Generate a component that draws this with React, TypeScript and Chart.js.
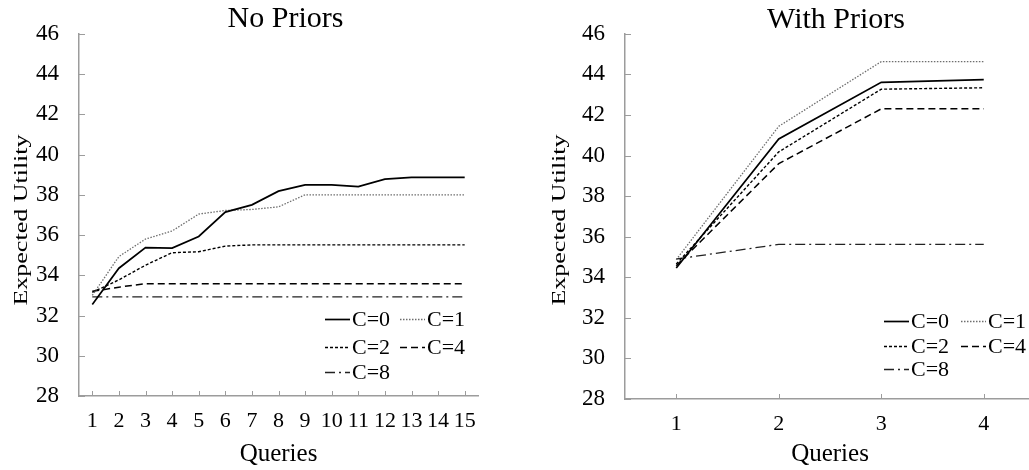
import React, { useEffect, useRef } from "react";
import { Chart, registerables } from "chart.js";

Chart.register(...registerables);

const FONT = '"Liberation Serif", "Times New Roman", Times, serif';

// ---- data ----
const seriesLabels = ["C=0", "C=1", "C=2", "C=4", "C=8"];

const noPriorsQueries = ["1", "2", "3", "4", "5", "6", "7", "8", "9", "10", "11", "12", "13", "14", "15"];
const noPriorsC0 = [32.55, 34.35, 35.37, 35.35, 35.93, 37.14, 37.5, 38.18, 38.49, 38.49, 38.41, 38.78, 38.86, 38.86, 38.86];
const noPriorsC1 = [33.0, 34.93, 35.8, 36.2, 37.04, 37.22, 37.27, 37.4, 38.0, 38.0, 38.0, 38.0, 38.0, 38.0, 38.0];
const noPriorsC2 = [33.15, 33.77, 34.5, 35.12, 35.17, 35.45, 35.51, 35.51, 35.51, 35.51, 35.51, 35.51, 35.51, 35.51, 35.51];
const noPriorsC4 = [33.2, 33.41, 33.58, 33.58, 33.58, 33.58, 33.58, 33.58, 33.58, 33.58, 33.58, 33.58, 33.58, 33.58, 33.58];
const noPriorsC8 = [32.93, 32.93, 32.93, 32.93, 32.93, 32.93, 32.93, 32.93, 32.93, 32.93, 32.93, 32.93, 32.93, 32.93, 32.93];

const withPriorsQueries = ["1", "2", "3", "4"];
const withPriorsC0 = [34.46, 40.82, 43.61, 43.74];
const withPriorsC1 = [34.87, 41.44, 44.63, 44.63];
const withPriorsC2 = [34.65, 40.18, 43.27, 43.34];
const withPriorsC4 = [34.57, 39.6, 42.3, 42.3];
const withPriorsC8 = [34.9, 35.62, 35.62, 35.62];

const yMin = 28;
const yMax = 46;
const yStep = 2;

const xAxisTitle = "Queries";
const yAxisTitle = "Expected Utility";

// ---- styles ----
const lineStyles = [
  { color: "#000000", width: 1.7, dash: [] as number[] },
  { color: "#6e6e6e", width: 1.3, dash: [1.5, 1.5] },
  { color: "#000000", width: 1.4, dash: [3, 2] },
  { color: "#000000", width: 1.5, dash: [7, 4] },
  { color: "#222222", width: 1.3, dash: [10, 4, 2, 4] },
];

const AXIS_COLOR = "#9c9c9c";

const decorPlugin = {
  id: "decor",
  afterDraw(chart: any, _args: any, opts: any) {
    const { ctx, chartArea } = chart;
    const xs = chart.scales.x;
    const ys = chart.scales.y;
    ctx.save();
    // inside tick marks
    ctx.strokeStyle = AXIS_COLOR;
    ctx.lineWidth = 1;
    ctx.setLineDash([]);
    ys.ticks.forEach((_t: any, i: number) => {
      const y = Math.round(ys.getPixelForTick(i)) + 0.5;
      ctx.beginPath();
      ctx.moveTo(chartArea.left, y);
      ctx.lineTo(chartArea.left + 6, y);
      ctx.stroke();
    });
    xs.ticks.forEach((_t: any, i: number) => {
      const x = Math.round(xs.getPixelForTick(i)) + 0.5;
      ctx.beginPath();
      ctx.moveTo(x, chartArea.bottom);
      ctx.lineTo(x, chartArea.bottom - 5);
      ctx.stroke();
    });

    // chart title
    ctx.fillStyle = "#000";
    ctx.font = `30px ${FONT}`;
    ctx.textAlign = "center";
    ctx.textBaseline = "alphabetic";
    ctx.fillText(opts.title, (chartArea.left + chartArea.right) / 2 + opts.titleDx, opts.titleBaseline);

    // y axis title (narrow rotated text)
    ctx.save();
    ctx.translate(chartArea.left + opts.yTitleDx, opts.yTitleCy);
    ctx.rotate(-Math.PI / 2);
    ctx.scale(1, 0.7);
    ctx.font = `26px ${FONT}`;
    ctx.textAlign = "center";
    ctx.textBaseline = "alphabetic";
    ctx.fillText(yAxisTitle, 0, 0);
    ctx.restore();

    // legend inside the plot
    ctx.font = `22px ${FONT}`;
    ctx.textAlign = "left";
    ctx.textBaseline = "middle";
    chart.data.datasets.forEach((ds: any, i: number) => {
      const col = i % 2;
      const row = Math.floor(i / 2);
      const x0 = chartArea.right + opts.legendCols[col];
      const y = chartArea.bottom + opts.legendRows[row];
      ctx.strokeStyle = ds.borderColor;
      ctx.lineWidth = ds.borderWidth;
      ctx.setLineDash(ds.borderDash || []);
      ctx.beginPath();
      ctx.moveTo(x0, y + 0.5);
      ctx.lineTo(x0 + 25, y + 0.5);
      ctx.stroke();
      ctx.setLineDash([]);
      ctx.fillStyle = "#000";
      ctx.fillText(ds.label, x0 + 27, y + 1);
    });
    ctx.restore();
  },
};

type PanelProps = {
  left: number;
  width: number;
  labels: string[];
  series: number[][];
  yWidth: number;
  xHeight: number;
  padTop: number;
  padRight: number;
  decor: any;
};

function Panel(p: PanelProps) {
  const ref = useRef<HTMLCanvasElement>(null);
  useEffect(() => {
    const chart = new Chart(ref.current as HTMLCanvasElement, {
      type: "line",
      data: {
        labels: p.labels,
        datasets: p.series.map((vals, i) => ({
          label: seriesLabels[i],
          data: vals,
          borderColor: lineStyles[i].color,
          backgroundColor: lineStyles[i].color,
          borderWidth: lineStyles[i].width,
          borderDash: lineStyles[i].dash,
          pointRadius: 0,
          tension: 0,
          fill: false,
        })),
      },
      options: {
        responsive: false,
        animation: false,
        devicePixelRatio: 1,
        layout: { padding: { top: p.padTop, right: p.padRight, left: 0, bottom: 0 } },
        plugins: {
          legend: { display: false },
          title: { display: false },
          tooltip: { enabled: false },
          decor: p.decor,
        } as any,
        scales: {
          x: {
            type: "category",
            offset: true,
            grid: { display: false, drawTicks: false },
            border: { display: true, color: AXIS_COLOR, width: 1.5 },
            ticks: { color: "#000", font: { family: FONT, size: 22 }, padding: 12, maxRotation: 0, autoSkip: false },
            title: { display: true, text: xAxisTitle, color: "#000", font: { family: FONT, size: 25 }, padding: { top: 0, bottom: 1 } },
            afterFit: (s: any) => {
              s.height = p.xHeight;
            },
          },
          y: {
            min: yMin,
            max: yMax,
            grid: { display: false, drawTicks: false },
            border: { display: true, color: AXIS_COLOR, width: 1.5 },
            ticks: { stepSize: yStep, color: "#000", font: { family: FONT, size: 23 }, padding: 20 },
            afterFit: (s: any) => {
              s.width = p.yWidth;
            },
          },
        },
      },
      plugins: [decorPlugin],
    } as any);
    return () => chart.destroy();
  }, []);
  return (
    <canvas
      ref={ref}
      width={p.width}
      height={470}
      style={{ position: "absolute", left: p.left, top: 0, width: p.width, height: 470 }}
    />
  );
}

export default function App() {
  return (
    <div style={{ position: "absolute", left: 0, top: 0, width: 1029, height: 470, background: "#fff", overflow: "hidden" }}>
      <Panel
        left={0}
        width={500}
        labels={noPriorsQueries}
        series={[noPriorsC0, noPriorsC1, noPriorsC2, noPriorsC4, noPriorsC8]}
        yWidth={79}
        xHeight={74}
        padTop={27}
        padRight={22}
        decor={{
          title: "No Priors",
          titleDx: 7,
          titleBaseline: 27,
          yTitleDx: -52,
          yTitleCy: 220,
          legendCols: [-153, -78],
          legendRows: [-77, -49, -24],
        }}
      />
      <Panel
        left={530}
        width={510}
        labels={withPriorsQueries}
        series={[withPriorsC0, withPriorsC1, withPriorsC2, withPriorsC4, withPriorsC8]}
        yWidth={95}
        xHeight={71}
        padTop={32}
        padRight={5}
        decor={{
          title: "With Priors",
          titleDx: 6,
          titleBaseline: 28,
          yTitleDx: -60,
          yTitleCy: 220,
          legendCols: [-151, -74],
          legendRows: [-78, -53, -30],
        }}
      />
    </div>
  );
}
